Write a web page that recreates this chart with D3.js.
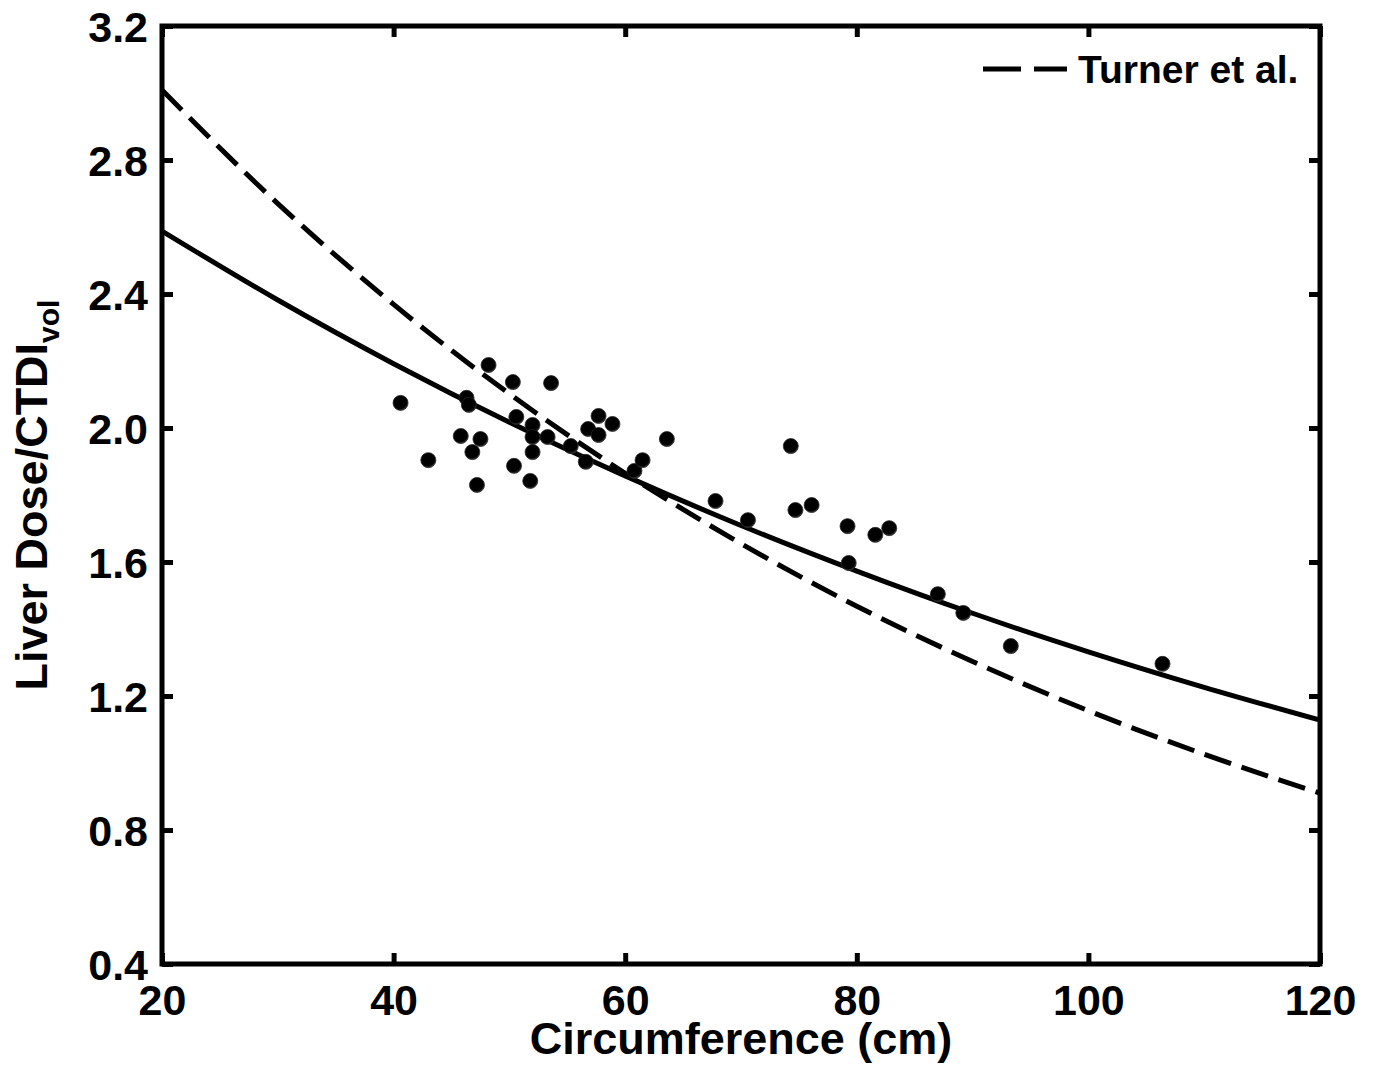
<!DOCTYPE html>
<html>
<head>
<meta charset="utf-8">
<script src="https://cdn.jsdelivr.net/npm/d3@7"></script>
<style>
  html, body { margin: 0; padding: 0; background: #fff; }
  svg { display: block; }
  text { font-family: "Liberation Sans", Arial, Helvetica, sans-serif; font-weight: bold; fill: #000; }
</style>
</head>
<body>
<svg id="chart" width="1379" height="1079"></svg>
<script>
// ---- data ----
const circumference = [40.6, 43.0, 45.8, 46.3, 46.5, 46.8, 47.2, 47.5, 48.2, 50.3,
  50.4, 50.6, 51.8, 52.0, 52.0, 52.0, 53.3, 53.6, 55.3, 56.6,
  56.8, 57.7, 57.7, 58.9, 60.8, 61.5, 63.6, 67.8, 70.6, 74.3,
  74.7, 76.1, 79.2, 79.3, 81.6, 82.8, 87.0, 89.2, 93.3, 106.4];
const doseRatio = [2.075, 1.904, 1.976, 2.090, 2.069, 1.928, 1.830, 1.967, 2.188, 2.137,
  1.887, 2.033, 1.842, 2.009, 1.973, 1.928, 1.973, 2.134, 1.946, 1.899,
  1.997, 2.036, 1.979, 2.012, 1.872, 1.904, 1.967, 1.782, 1.725, 1.946,
  1.755, 1.770, 1.707, 1.597, 1.681, 1.701, 1.504, 1.448, 1.349, 1.296];

const curveX = [20, 30, 40, 50, 60, 70, 80, 90, 100, 110, 120];
const fitSolid = [2.588, 2.382, 2.192, 2.017, 1.857, 1.709, 1.573, 1.447, 1.332, 1.226, 1.128];
const fitTurner = [3.009, 2.670, 2.369, 2.102, 1.865, 1.655, 1.468, 1.303, 1.156, 1.026, 0.910];

const xTicks = [20, 40, 60, 80, 100, 120];
const yTicks = [0.4, 0.8, 1.2, 1.6, 2.0, 2.4, 2.8, 3.2];
const legendLabel = "Turner et al.";

// ---- layout ----
const svg = d3.select("#chart");
const L = 162, R = 1320, T = 26, B = 964;

const x = d3.scaleLinear().domain([20, 120]).range([L, R]);
const y = d3.scaleLinear().domain([0.4, 3.2]).range([B, T]);

// axes with inward ticks
const fmtY = d => d.toFixed(1);
const gx = svg.append("g").attr("transform", `translate(0,${B})`)
  .call(d3.axisBottom(x).tickValues(xTicks).tickSize(-11).tickPadding(20).tickFormat(d3.format("d")));
const gxt = svg.append("g").attr("transform", `translate(0,${T})`)
  .call(d3.axisTop(x).tickValues(xTicks).tickSize(-11).tickFormat(""));
const gy = svg.append("g").attr("transform", `translate(${L},0)`)
  .call(d3.axisLeft(y).tickValues(yTicks).tickSize(-11).tickPadding(14).tickFormat(fmtY));
const gyr = svg.append("g").attr("transform", `translate(${R},0)`)
  .call(d3.axisRight(y).tickValues(yTicks).tickSize(-11).tickFormat(""));

[gx, gxt, gy, gyr].forEach(g => {
  g.select(".domain").remove();
  g.selectAll(".tick line").attr("stroke", "#000").attr("stroke-width", 5);
  g.selectAll(".tick text").attr("font-size", 43).attr("fill", "#000")
    .style("font-family", '"Liberation Sans", Arial, sans-serif').style("font-weight", "bold");
});
gx.selectAll(".tick text").attr("dy", "0.71em");
gy.selectAll(".tick text").attr("dy", "0.35em");

// frame
svg.append("rect").attr("x", L).attr("y", T).attr("width", R - L).attr("height", B - T)
  .attr("fill", "none").attr("stroke", "#000").attr("stroke-width", 5);

// clip for curves
svg.append("clipPath").attr("id", "clip").append("rect")
  .attr("x", L).attr("y", T).attr("width", R - L).attr("height", B - T);

const line = d3.line().x(d => x(d[0])).y(d => y(d[1])).curve(d3.curveMonotoneX);

svg.append("path").datum(curveX.map((v, i) => [v, fitSolid[i]]))
  .attr("d", line).attr("fill", "none").attr("stroke", "#000").attr("stroke-width", 5)
  .attr("clip-path", "url(#clip)");

svg.append("path").datum(curveX.map((v, i) => [v, fitTurner[i]]))
  .attr("d", line).attr("fill", "none").attr("stroke", "#000").attr("stroke-width", 5)
  .attr("stroke-dasharray", "28,11").attr("clip-path", "url(#clip)");

// markers
const defs = svg.append("defs");
const grad = defs.append("radialGradient").attr("id", "dot").attr("cx", "45%").attr("cy", "40%").attr("r", "60%");
grad.append("stop").attr("offset", "0%").attr("stop-color", "#000");
grad.append("stop").attr("offset", "80%").attr("stop-color", "#000");
grad.append("stop").attr("offset", "100%").attr("stop-color", "#444");

svg.append("g").selectAll("circle")
  .data(circumference.map((c, i) => [c, doseRatio[i]]))
  .join("circle")
  .attr("cx", d => x(d[0])).attr("cy", d => y(d[1])).attr("r", 7.5)
  .attr("fill", "url(#dot)").attr("stroke", "#222").attr("stroke-width", 0.8);

// legend
const lg = svg.append("g");
lg.append("line").attr("x1", 983).attr("x2", 1067).attr("y1", 69).attr("y2", 69)
  .attr("stroke", "#000").attr("stroke-width", 5).attr("stroke-dasharray", "38,13");
lg.append("text").attr("x", 1078).attr("y", 83).attr("font-size", 39).text(legendLabel);

// axis labels
svg.append("text").attr("x", (L + R) / 2).attr("y", 1054).attr("text-anchor", "middle")
  .attr("font-size", 45).text("Circumference (cm)");

const yl = svg.append("text").attr("transform", `translate(47,${(T + B) / 2}) rotate(-90)`)
  .attr("text-anchor", "middle").attr("font-size", 45);
yl.append("tspan").text("Liver Dose/CTDI");
yl.append("tspan").attr("font-size", 30).attr("dy", 12).text("vol");
</script>
</body>
</html>
